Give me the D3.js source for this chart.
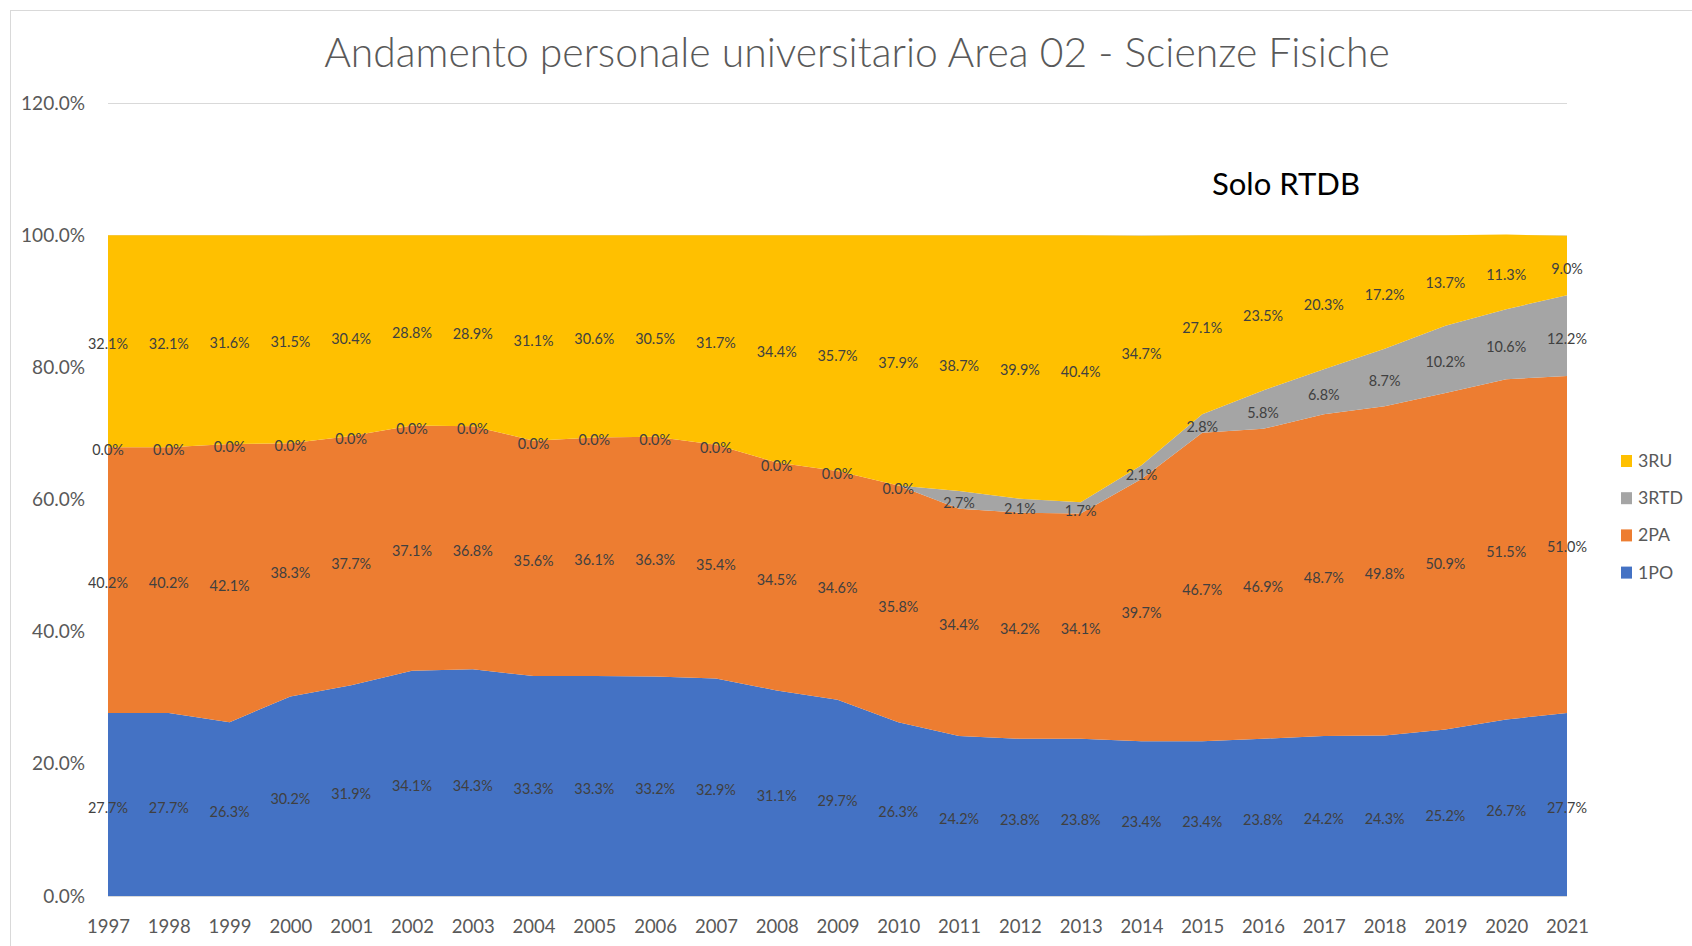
<!DOCTYPE html>
<html><head><meta charset="utf-8">
<script src="https://cdn.jsdelivr.net/npm/d3@7"></script>
<style>body{margin:0;background:#fff;} svg{display:block;}</style>
</head><body>
<svg id="chart" width="1692" height="946"></svg>
<script>
const years = [1997,1998,1999,2000,2001,2002,2003,2004,2005,2006,2007,2008,2009,2010,2011,2012,2013,2014,2015,2016,2017,2018,2019,2020,2021];
const seriesNames = ["1PO","2PA","3RTD","3RU"];
const po  = [27.7,27.7,26.3,30.2,31.9,34.1,34.3,33.3,33.3,33.2,32.9,31.1,29.7,26.3,24.2,23.8,23.8,23.4,23.4,23.8,24.2,24.3,25.2,26.7,27.7];
const pa  = [40.2,40.2,42.1,38.3,37.7,37.1,36.8,35.6,36.1,36.3,35.4,34.5,34.6,35.8,34.4,34.2,34.1,39.7,46.7,46.9,48.7,49.8,50.9,51.5,51.0];
const rtd = [0.0,0.0,0.0,0.0,0.0,0.0,0.0,0.0,0.0,0.0,0.0,0.0,0.0,0.0,2.7,2.1,1.7,2.1,2.8,5.8,6.8,8.7,10.2,10.6,12.2];
const ru  = [32.1,32.1,31.6,31.5,30.4,28.8,28.9,31.1,30.6,30.5,31.7,34.4,35.7,37.9,38.7,39.9,40.4,34.7,27.1,23.5,20.3,17.2,13.7,11.3,9.0];
const yTicks = [0,20,40,60,80,100,120];
const legendOrder = ["3RU","3RTD","2PA","1PO"];
const titleText = "Andamento personale universitario Area 02 - Scienze Fisiche";
const noteText = "Solo RTDB";

(function(){
const colors = {"1PO":"#4472C4","2PA":"#ED7D31","3RTD":"#A5A5A5","3RU":"#FFC000"};
const seriesData = {"1PO":po,"2PA":pa,"3RTD":rtd,"3RU":ru};
const rows = years.map((yr,i)=>{const r={year:yr}; seriesNames.forEach(k=>r[k]=seriesData[k][i]); return r;});

const FONT = "Lato, 'Open Sans', sans-serif";
const svg = d3.select("#chart");

function fitSize(sample, target, weight){
  const t = svg.append("text").attr("font-family",FONT).attr("font-size",100).attr("font-weight",weight||400).text(sample);
  const w = t.node().getComputedTextLength();
  t.remove();
  return 100*target/w;
}

const pLeft=108, pRight=1567, pTop=103, pBottom=896;
const x = d3.scaleLinear().domain([years[0], years[years.length-1]]).range([pLeft,pRight]);
const y = d3.scaleLinear().domain([0,120]).range([pBottom,pTop]);

// chart frame
svg.append("rect").attr("x",10.5).attr("y",10.5).attr("width",1720).attr("height",1000)
  .attr("fill","#fff").attr("stroke","#D9D9D9").attr("stroke-width",1);

// gridlines
svg.append("g").attr("transform",`translate(${pLeft},0)`)
  .call(d3.axisLeft(y).tickValues(yTicks).tickSize(-(pRight-pLeft)).tickFormat(""))
  .call(g=>g.select(".domain").remove())
  .call(g=>g.selectAll("line").attr("stroke","#D9D9D9").attr("stroke-width",1));

// stacked areas
const stacked = d3.stack().keys(seriesNames)(rows);
const area = d3.area().x(d=>x(d.data.year)).y0(d=>y(d[0])).y1(d=>y(d[1]));
svg.append("g").selectAll("path").data(stacked).join("path")
  .attr("fill",d=>colors[d.key]).attr("d",area);

// y axis labels
const ySize = fitSize("120.0%", 64);
svg.append("g").attr("transform",`translate(${pLeft},0)`)
  .call(d3.axisLeft(y).tickValues(yTicks).tickSize(0).tickPadding(23).tickFormat(d=>d.toFixed(1)+"%"))
  .call(g=>g.select(".domain").remove())
  .call(g=>g.selectAll("text").attr("font-family",FONT).attr("font-size",ySize).attr("fill","#595959"));

// x axis labels
const xSize = fitSize("1997", 43);
svg.append("g").attr("transform",`translate(0,${pBottom})`)
  .call(d3.axisBottom(x).tickValues(years).tickSize(0).tickPadding(24).tickFormat(d3.format("d")))
  .call(g=>g.select(".domain").remove())
  .call(g=>g.selectAll("text").attr("font-family",FONT).attr("font-size",xSize).attr("fill","#595959"));

// data labels
const dSize = fitSize("32.1%", 40);
const lg = svg.append("g");
stacked.forEach(s=>{
  lg.append("g").selectAll("text").data(s).join("text")
    .attr("x",d=>x(d.data.year))
    .attr("y",d=>y((d[0]+d[1])/2))
    .attr("dy",(0.35*dSize+3)+"px")
    .attr("text-anchor","middle")
    .attr("font-family",FONT).attr("font-size",dSize).attr("fill","#404040")
    .text(d=>d.data[s.key].toFixed(1)+"%");
});

// title
const tSize = fitSize(titleText, 1066, 300);
svg.append("text").attr("x",857).attr("y",67).attr("text-anchor","middle")
  .attr("font-family",FONT).attr("font-weight",300).attr("font-size",tSize).attr("fill","#595959").text(titleText);

// annotation
const nSize = fitSize(noteText, 148);
svg.append("text").attr("x",1286).attr("y",195).attr("text-anchor","middle")
  .attr("font-family",FONT).attr("font-size",nSize).attr("fill","#000").text(noteText);

// legend
const legSize = fitSize("3RTD", 45);
const leg = svg.append("g");
legendOrder.forEach((k,i)=>{
  const by = 467 + i*37.2;
  leg.append("rect").attr("x",1621).attr("y",by-12).attr("width",11).attr("height",12).attr("fill",colors[k]);
  leg.append("text").attr("x",1638).attr("y",by).attr("font-family",FONT).attr("font-size",legSize).attr("fill","#595959").text(k);
});
})();
</script>
</body></html>
